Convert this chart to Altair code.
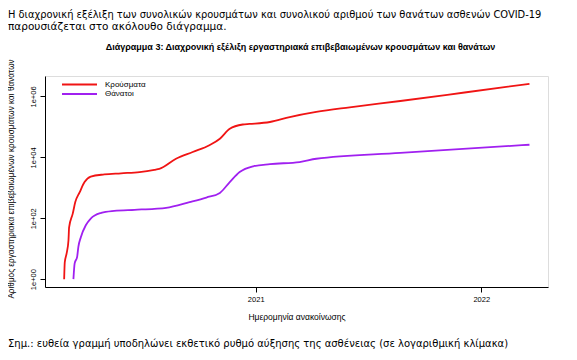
import altair as alt
import pandas as pd

# ---- data ----
case_dates = ["2020-02-26", "2020-02-27", "2020-03-01", "2020-03-04", "2020-03-05",
              "2020-03-11", "2020-03-15", "2020-03-22", "2020-03-30", "2020-04-09",
              "2020-05-01", "2020-05-28", "2020-06-27", "2020-07-21", "2020-07-29",
              "2020-08-25", "2020-09-21", "2020-10-18", "2020-11-04", "2020-11-20",
              "2020-12-11", "2020-12-22", "2021-01-24", "2021-02-25", "2021-04-09",
              "2021-06-02", "2021-08-23", "2021-12-05", "2022-03-20"]
cases = [1, 3.6, 7, 19, 50,
         145, 340, 710, 1540, 2350,
         2750, 3000, 3300, 3900, 4200,
         9000, 15000, 25000, 41000, 87000,
         120000, 125000, 145000, 210000, 310000,
         440000, 710000, 1350000, 2600000]

death_dates = ["2020-03-12", "2020-03-14", "2020-03-18", "2020-03-20", "2020-03-24",
               "2020-04-01", "2020-04-09", "2020-04-26", "2020-05-17", "2020-06-19",
               "2020-07-21", "2020-08-09", "2020-09-16", "2020-10-13", "2020-11-04",
               "2020-11-20", "2020-12-06", "2020-12-28", "2021-01-24", "2021-03-13",
               "2021-04-09", "2021-08-23", "2022-03-20"]
deaths = [1, 3.3, 5.4, 11.5, 24,
          59, 98, 150, 175, 190,
          205, 220, 340, 480, 680,
          1540, 3300, 5100, 6000, 7000,
          9000, 14000, 26000]

series_names = ["Κρούσματα", "Θάνατοι"]
series_colors = ["#F01414", "#A020F0"]

y_tick_values = [1, 100, 10000, 1000000]
y_tick_labels = ["1e+00", "1e+02", "1e+04", "1e+06"]
x_tick_values = ["2021-01-01", "2022-01-01"]

para_line1 = "Η διαχρονική εξέλιξη των συνολικών κρουσμάτων και συνολικού αριθμού των θανάτων ασθενών COVID-19"
para_line2 = "παρουσιάζεται στο ακόλουθο διάγραμμα."
chart_title = "Διάγραμμα 3: Διαχρονική εξέλιξη εργαστηριακά επιβεβαιωμένων κρουσμάτων και θανάτων"
y_title = "Αριθμός εργαστηριακά επιβεβαιωμένων κρουσμάτων και θανάτων"
x_title = "Ημερομηνία ανακοίνωσης"
note = "Σημ.: ευθεία γραμμή υποδηλώνει εκθετικό ρυθμό αύξησης της ασθένειας (σε λογαριθμική κλίμακα)"

# ---- build table ----
df = pd.concat([
    pd.DataFrame({"date": case_dates, "value": cases, "series": series_names[0]}),
    pd.DataFrame({"date": death_dates, "value": deaths, "series": series_names[1]}),
])

W, H = 503, 211
R_FONT = "Liberation Sans"
DOC_FONT = "DejaVu Sans"

label_expr = " : ".join(
    [f"datum.value < {v * 10} ? '{l}'" for v, l in zip(y_tick_values[:-1], y_tick_labels[:-1])]
    + [f"'{y_tick_labels[-1]}'"]
)

lines = alt.Chart(df).mark_line(strokeWidth=1.8, interpolate="monotone").encode(
    x=alt.X("date:T",
            scale=alt.Scale(domain=["2020-01-26", "2022-04-19"], nice=False),
            axis=alt.Axis(values=x_tick_values, format="%Y", title=x_title,
                          grid=False, domainColor="black", tickColor="black",
                          tickSize=5, labelPadding=3, labelFont=R_FONT, labelFontSize=7.5,
                          labelColor="black", titleFont=R_FONT, titleFontSize=8.5,
                          titleFontWeight="normal", titleColor="black", titlePadding=10,
                          labelFlush=False)),
    y=alt.Y("value:Q",
            scale=alt.Scale(type="log", domain=[0.553, 4.7e6], nice=False),
            axis=alt.Axis(values=y_tick_values, labelExpr=label_expr, title=y_title,
                          grid=False, domainColor="black", tickColor="black",
                          tickSize=5, labelPadding=3, labelAngle=270,
                          labelAlign="center", labelBaseline="bottom",
                          labelFont=R_FONT, labelFontSize=7.5, labelColor="black",
                          titleFont=R_FONT, titleFontSize=8.2, titleFontWeight="normal",
                          titleColor="black", titleAngle=270, titleAlign="center",
                          titleBaseline="middle", titleX=-34, titleY=H / 2 - 3,
                          labelFlush=False)),
    color=alt.Color("series:N", scale=alt.Scale(domain=series_names, range=series_colors),
                    legend=None),
)

legend_layers = []
for i, (name, col) in enumerate(zip(series_names, series_colors)):
    ly = 8.5 + 9.5 * i
    legend_layers.append(
        alt.Chart(pd.DataFrame({"name": [name]})).mark_rule(color=col, strokeWidth=1.8).encode(
            x=alt.value(17), x2=alt.value(52), y=alt.value(ly))
    )
    legend_layers.append(
        alt.Chart(pd.DataFrame({"name": [name]})).mark_text(
            align="left", baseline="middle", font=R_FONT, fontSize=8, color="black").encode(
            x=alt.value(60), y=alt.value(ly), text="name:N")
    )


def text_layer(s, x, y, **kw):
    return alt.Chart(pd.DataFrame({"t": [s]})).mark_text(baseline="middle", color="black", **kw).encode(
        x=alt.value(x), y=alt.value(y), text="t:N")


p1 = text_layer(para_line1, -37, -61.5, align="left", font=DOC_FONT, fontSize=9.9)
p2 = text_layer(para_line2, -37, -49, align="left", font=DOC_FONT, fontSize=10.5)
ttl = text_layer(chart_title, W / 2 + 4, -29, align="center", font=R_FONT, fontSize=9, fontWeight="bold")
nt = text_layer(note, -37, 268, align="left", font=DOC_FONT, fontSize=10)

chart = alt.layer(lines, *legend_layers, p1, p2, ttl, nt).properties(
    width=W, height=H,
    autosize=alt.AutoSizeParams(type="none"),
    padding={"left": 37, "top": 68, "right": 21, "bottom": 65},
).configure_view(stroke=None).configure(background="white")

chart.save("out.html", embed_options={"renderer": "svg", "actions": False})
